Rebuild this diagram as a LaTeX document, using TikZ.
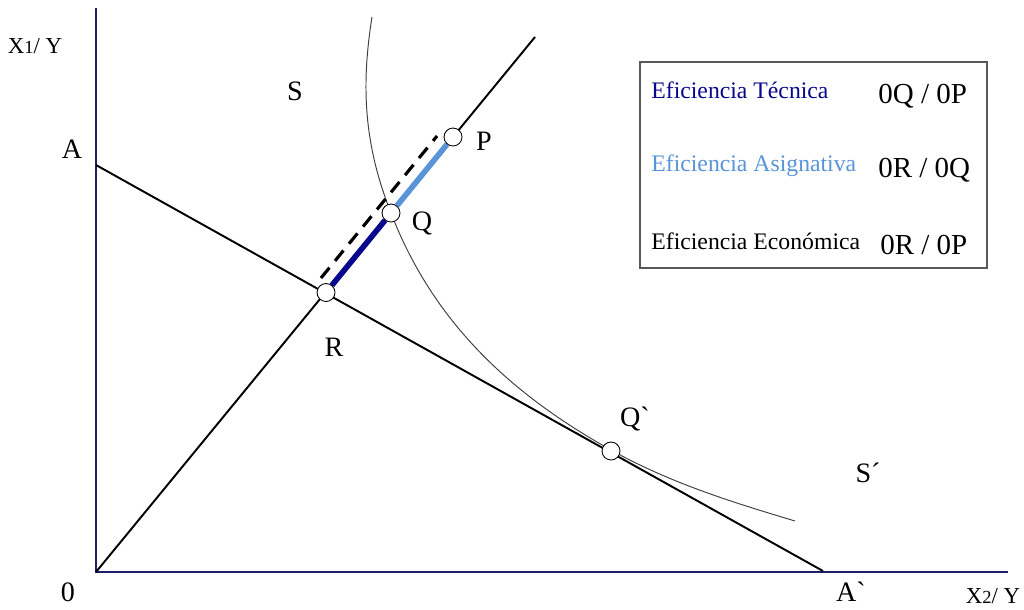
\documentclass[tikz,border=0pt]{standalone}
\usepackage{fontspec}
\setmainfont{Liberation Serif}
\usepackage{tikz}
\usetikzlibrary{positioning}
\definecolor{ejenavy}{RGB}{30,30,105}
\definecolor{tecblue}{RGB}{8,8,140}
\definecolor{asigblue}{RGB}{88,148,214}
\tikzset{
  punto/.style={circle,draw,fill=white,inner sep=0pt,minimum size=0.36cm,line width=0.5pt},
  etiq/.style={font=\fontsize{16}{18}\selectfont,inner sep=0pt},
  ejeetiq/.style={font=\fontsize{13}{15}\selectfont,inner sep=0pt},
  leyenda/.style={font=\fontsize{13.5}{15}\selectfont,inner sep=0pt,anchor=base west},
  razon/.style={font=\fontsize{16.5}{18}\selectfont,inner sep=0pt,anchor=base west},
}

\begin{document}
\begin{tikzpicture}[x=0.02cm,y=-0.02cm]
  \useasboundingbox (0,0) rectangle (1024,609);
  % Coordinates
  \coordinate (O) at (96,572);
  \coordinate (ytop) at (96,8);
  \coordinate (xend) at (1008,572);
  \coordinate (A) at (96,165);
  \coordinate (A2) at (823,571);
  \coordinate (rayo) at (535,37);
  \coordinate (d1) at (321,278);
  \coordinate (d2) at (437,136);
  \coordinate (c0) at (372,17);
  \coordinate (c9) at (795,521);
  % Axes
  \draw[ejenavy,line width=0.85pt] (ytop) -- (O) -- (xend);
  % Budget line and ray
  \draw[line width=1.1pt] (A) -- (A2);
  \draw[line width=1.1pt] (O) -- (rayo);
  % Isoquant
  \draw[black!75,line width=0.55pt] (c0) .. controls (362,80) and (362,140) .. (391,213)
    .. controls (436,330) and (521,399.7) .. (611,450)
    .. controls (671,483.5) and (735,503) .. (c9);
  % Points
  \node[punto] (R) at (326,292.5) {};
  \node[punto] (Q) at (391,213) {};
  \node[punto] (P) at (453,137) {};
  \node[punto] (Q2) at (611,451) {};
  \draw[tecblue,line width=3.2pt] (R) -- (Q);
  \draw[asigblue,line width=3.2pt] (Q) -- (P);
  \draw[line width=1.8pt,dash pattern=on 7.6pt off 5pt] (d1) -- (d2);
  % Labels
  \node[ejeetiq] (ly) at (35,46) {X{\fontsize{10.5}{11}\selectfont 1}/ Y};
  \node[ejeetiq] (lx) at (993,596) {X{\fontsize{10.5}{11}\selectfont 2}/ Y};
  \node[etiq] (l0) at (68,592) {0};
  \node[etiq] (lA) at (72,149) {A};
  \node[etiq] (lA2) at (851,592) {A\textasciigrave};
  \node[etiq] (lS) at (295,91) {S};
  \node[etiq] (lS2) at (868,473) {S´};
  \node[etiq] (lP) at (484,141) {P};
  \node[etiq] (lQ) at (422,223) {Q};
  \node[etiq] (lR) at (334,347) {R};
  \node[etiq] (lQ2) at (635,419) {Q\textasciigrave};
  % Legend
  \draw[black!65,line width=0.6pt] (640,62) rectangle (987,268);
  \node[leyenda,tecblue] (tec) at (651,98) {Eficiencia Técnica};
  \node[leyenda,asigblue] (asig) at (651,171) {Eficiencia Asignativa};
  \node[leyenda] (econ) at (651,249) {Eficiencia Económica};
  \node[razon] (rtec) at (878,103) {0Q / 0P};
  \node[razon] (rasig) at (878,177) {0R / 0Q};
  \node[razon] (recon) at (880,254) {0R / 0P};
\end{tikzpicture}
\end{document}
